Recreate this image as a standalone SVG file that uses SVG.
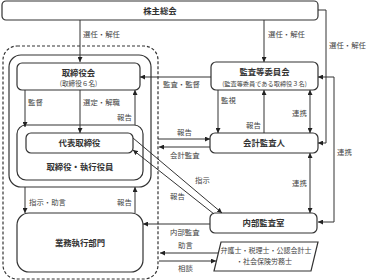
<svg xmlns="http://www.w3.org/2000/svg" width="372" height="280" viewBox="0 0 372 280">
<defs>
<marker id="ah" viewBox="0 0 5 5" refX="5" refY="2.5" markerWidth="5" markerHeight="5" markerUnits="userSpaceOnUse" orient="auto-start-reverse">
<path d="M0,0 L5,2.5 L0,5 z" fill="#222"/>
</marker>
</defs>
<style>
.box{fill:#fff;stroke:#333;stroke-width:1.2}
.frame{fill:none;stroke:#333;stroke-width:1.2}
.dash{fill:none;stroke:#333;stroke-width:1.2;stroke-dasharray:3 2}
.t{font-family:"Noto Sans CJK JP","Noto Sans",sans-serif;font-size:8.4px;font-weight:bold;fill:#333;text-anchor:middle}
.s{font-family:"Noto Sans CJK JP","Noto Sans",sans-serif;font-size:6.6px;fill:#444;text-anchor:middle}
.l{font-family:"Noto Sans CJK JP","Noto Sans",sans-serif;font-size:7.4px;fill:#444}
.c{fill:none;stroke:#333;stroke-width:1}
.a{marker-end:url(#ah)}
.d{marker-start:url(#ah);marker-end:url(#ah)}
</style>
<g id="group-frame">
<rect class="dash" x="3" y="46" width="155" height="233" rx="14"/>
</g>
<g id="node-kabunushi">
<rect class="box" x="2" y="1" width="316" height="19" rx="4"/>
<text class="t" x="160" y="13.5">株主総会</text>
</g>
<g id="node-torishimariyaku-shikkoyakuin">
<rect class="frame" x="9" y="55" width="142" height="132" rx="12"/>
<rect class="frame" x="17" y="125" width="126" height="55" rx="9"/>
<text class="t" x="80" y="170">取締役・執行役員</text>
</g>
<g id="node-torishimariyakukai">
<rect class="box" x="17" y="63" width="123" height="27" rx="5"/>
<text class="t" x="78.5" y="75.5">取締役会</text>
<text class="s" x="78.5" y="85.5">(取締役６名)</text>
</g>
<g id="node-daihyo">
<rect class="box" x="26" y="133" width="107" height="20" rx="5"/>
<text class="t" x="79.5" y="146">代表取締役</text>
</g>
<g id="node-gyomu">
<rect class="box" x="17" y="213" width="126" height="59" rx="12"/>
<text class="t" x="80" y="246">業務執行部門</text>
</g>
<g id="node-kansatou">
<rect class="box" x="211" y="62" width="107" height="28" rx="5"/>
<text class="t" x="264.5" y="75">監査等委員会</text>
<text class="s" x="264.5" y="85.5" style="font-size:6.2px">(監査等委員である取締役３名)</text>
</g>
<g id="node-kaikei">
<rect class="box" x="210" y="133" width="108" height="20" rx="5"/>
<text class="t" x="264" y="146">会計監査人</text>
</g>
<g id="node-naibu">
<rect class="box" x="210" y="213" width="107" height="20" rx="5"/>
<text class="t" x="263.5" y="226">内部監査室</text>
</g>
<g id="node-senmonka">
<polygon class="box" points="221,242 318,242 311,271 214,271"/>
<text class="s" x="266" y="253" style="font-size:7px">弁護士・税理士・公認会計士</text>
<text class="s" x="264" y="264" style="font-size:7px">・社会保険労務士</text>
</g>
<g id="connectors">
<path class="c a" d="M80,20 V62"/>
<path class="c a" d="M264,20 V62"/>
<path class="c a" d="M318,10 H326 V143 H318"/>
<path class="c d" d="M318,77 H334 V222 H318"/>
<path class="c a" d="M211,77 H140"/>
<path class="c a" d="M218,90 V133"/>
<path class="c a" d="M264,133 V90"/>
<path class="c d" d="M310,90 V133"/>
<path class="c d" d="M310,153 V213"/>
<path class="c a" d="M158,139 H210"/>
<path class="c a" d="M210,147 H159"/>
<path class="c a" d="M133,138 L222,213"/>
<path class="c a" d="M214,214 L133,150"/>
<path class="c a" d="M210,224 H143"/>
<path class="c a" d="M218,253 H160"/>
<path class="c a" d="M159,261 H216"/>
<path class="c a" d="M25,90 V127"/>
<path class="c a" d="M80,90 V133"/>
<path class="c a" d="M135,125 V90"/>
<path class="c a" d="M25,187 V213"/>
<path class="c a" d="M135,213 V187"/>
<text class="l" x="83" y="37">選任・解任</text>
<text class="l" x="268" y="37">選任・解任</text>
<text class="l" x="329" y="48">選任・解任</text>
<text class="l" x="337" y="155">連携</text>
<text class="l" x="163" y="87">監査・監督</text>
<text class="l" x="28" y="105">監督</text>
<text class="l" x="83" y="105">選定・解職</text>
<text class="l" x="117" y="120">報告</text>
<text class="l" x="221" y="103">監視</text>
<text class="l" x="246" y="128">報告</text>
<text class="l" x="292" y="116">連携</text>
<text class="l" x="177" y="135">報告</text>
<text class="l" x="170" y="158">会計監査</text>
<text class="l" x="292" y="186">連携</text>
<text class="l" x="195" y="183">指示</text>
<text class="l" x="170" y="199">報告</text>
<text class="l" x="29" y="205">指示・助言</text>
<text class="l" x="117" y="205">報告</text>
<text class="l" x="170" y="235">内部監査</text>
<text class="l" x="178" y="248">助言</text>
<text class="l" x="178" y="271">相談</text>
</g>
</svg>
